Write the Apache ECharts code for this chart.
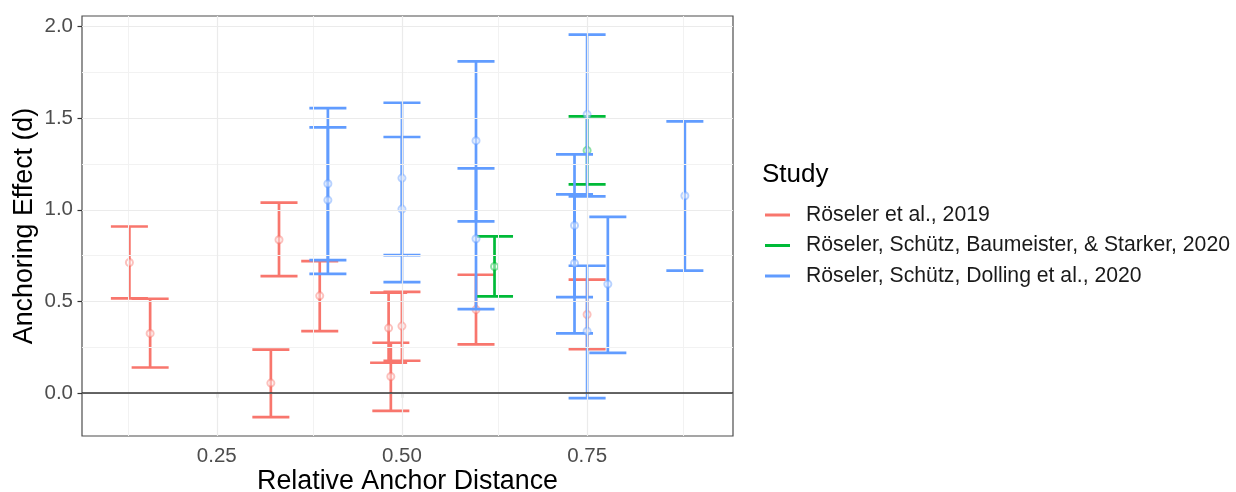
<!DOCTYPE html>
<html>
<head>
<meta charset="utf-8">
<title>Anchoring Effect by Relative Anchor Distance</title>
<script src="https://cdn.jsdelivr.net/npm/echarts@6/dist/echarts.min.js"></script>
<style>
  html, body { margin: 0; padding: 0; background: #ffffff; }
  #chart { width: 1236px; height: 492px; }
</style>
</head>
<body>
<div id="chart"></div>
<script>
// Study names (legend order)
const studies = [
  'Röseler et al., 2019',
  'Röseler, Schütz, Baumeister, & Starker, 2020',
  'Röseler, Schütz, Dolling et al., 2020'
];
const studyColors = ['#F8766D', '#00BA38', '#619CFF'];

// Röseler et al., 2019
const dist2019 = [0.132, 0.160, 0.334, 0.323, 0.389, 0.482, 0.500, 0.485, 0.600, 0.750];
const d2019    = [0.713, 0.326, 0.837, 0.055, 0.531, 0.355, 0.366, 0.091, 0.456, 0.429];
const lo2019   = [0.517, 0.140, 0.638, -0.131, 0.338, 0.166, 0.177, -0.096, 0.266, 0.240];
const hi2019   = [0.909, 0.515, 1.039, 0.238, 0.720, 0.548, 0.553, 0.275, 0.646, 0.619];

// Röseler, Schütz, Baumeister, & Starker, 2020
const distBaum = [0.625, 0.750];
const dBaum    = [0.691, 1.324];
const loBaum   = [0.528, 1.139];
const hiBaum   = [0.855, 1.510];

// Röseler, Schütz, Dolling et al., 2020
const distDoll = [0.400, 0.400, 0.500, 0.500, 0.600, 0.600, 0.750, 0.733, 0.733, 0.750, 0.778, 0.882];
const dDoll    = [1.142, 1.053, 1.173, 1.004, 1.377, 0.842, 1.520, 0.915, 0.709, 0.338, 0.595, 1.077];
const loDoll   = [0.726, 0.651, 0.753, 0.606, 0.937, 0.458, 1.073, 0.524, 0.326, -0.027, 0.220, 0.668];
const hiDoll   = [1.555, 1.450, 1.584, 1.397, 1.810, 1.226, 1.955, 1.302, 1.084, 0.695, 0.962, 1.482];

// Axis ticks and gridlines
const xTicks = [0.25, 0.5, 0.75];
const xMinorGrid = [0.125, 0.375, 0.625, 0.875];
const yTicks = [0, 0.5, 1, 1.5, 2];
const yMinorGrid = [0.25, 0.75, 1.25, 1.75];

const CAP_WIDTH = 0.05; // error bar cap width, in x data units

const groups = [
  { x: dist2019, d: d2019, lo: lo2019, hi: hi2019 },
  { x: distBaum, d: dBaum, lo: loBaum, hi: hiBaum },
  { x: distDoll, d: dDoll, lo: loDoll, hi: hiDoll }
];

function renderErrorBar(params, api) {
  const x = api.value(0), lo = api.value(1), hi = api.value(2);
  const top = api.coord([x, hi]);
  const bot = api.coord([x, lo]);
  const left = api.coord([x - CAP_WIDTH / 2, hi])[0];
  const right = api.coord([x + CAP_WIDTH / 2, hi])[0];
  const style = { stroke: api.visual('color'), lineWidth: 2.7, fill: null };
  return {
    type: 'group',
    children: [
      { type: 'line', shape: { x1: top[0], y1: top[1], x2: bot[0], y2: bot[1] }, style },
      { type: 'line', shape: { x1: left, y1: top[1], x2: right, y2: top[1] }, style },
      { type: 'line', shape: { x1: left, y1: bot[1], x2: right, y2: bot[1] }, style }
    ]
  };
}

const gridMajor = { color: '#EBEBEB', width: 1.2, type: 'solid' };
const gridMinor = { color: '#F2F2F2', width: 1, type: 'solid' };

const series = [];

// Background gridlines
series.push({
  type: 'scatter',
  data: [],
  silent: true,
  z: 0,
  markLine: {
    silent: true,
    symbol: ['none', 'none'],
    label: { show: false },
    animation: false,
    data: [
      ...xMinorGrid.map(v => ({ xAxis: v, lineStyle: gridMinor })),
      ...yMinorGrid.map(v => ({ yAxis: v, lineStyle: gridMinor })),
      ...xTicks.map(v => ({ xAxis: v, lineStyle: gridMajor })),
      ...yTicks.map(v => ({ yAxis: v, lineStyle: gridMajor }))
    ]
  }
});

groups.forEach((g, i) => {
  series.push({
    name: studies[i],
    type: 'custom',
    renderItem: renderErrorBar,
    itemStyle: { color: studyColors[i] },
    encode: { x: 0, y: [1, 2] },
    data: g.x.map((x, k) => [x, g.lo[k], g.hi[k]]),
    z: 2 + i
  });
  series.push({
    name: studies[i],
    type: 'scatter',
    symbol: 'emptyCircle',
    symbolSize: 7,
    itemStyle: { color: studyColors[i], borderWidth: 1.2, opacity: 0.45 },
    data: g.x.map((x, k) => [x, g.d[k]]),
    z: 2 + i
  });
});

// Reference line at zero effect
series.push({
  type: 'scatter',
  data: [],
  silent: true,
  z: 10,
  markLine: {
    silent: true,
    symbol: ['none', 'none'],
    label: { show: false },
    animation: false,
    data: [{ yAxis: 0, lineStyle: { color: '#333333', width: 1.6, type: 'solid' } }]
  }
});

const chart = echarts.init(document.getElementById('chart'), null, { renderer: 'canvas' });
chart.setOption({
  animation: false,
  backgroundColor: '#ffffff',
  textStyle: { fontFamily: '"Liberation Sans", Arial, sans-serif' },
  title: {
    text: 'Study',
    left: 762,
    top: 162,
    padding: 0,
    textStyle: { fontSize: 26, fontWeight: 'normal', color: '#000000', fontFamily: '"Liberation Sans", Arial, sans-serif' }
  },
  legend: {
    data: studies,
    orient: 'vertical',
    left: 765,
    top: 203,
    padding: 0,
    itemGap: 6.5,
    itemWidth: 25,
    itemHeight: 3,
    icon: 'rect',
    selectedMode: false,
    textStyle: { fontSize: 21.2, color: '#1A1A1A', lineHeight: 24, padding: [0, 0, 0, 11],
      fontFamily: '"Liberation Sans", Arial, sans-serif' }
  },
  grid: {
    left: 82, right: 503, top: 16, bottom: 56,
    outerBoundsMode: 'none',
    containLabel: false,
    show: true, borderColor: '#4D4D4D', borderWidth: 1.2, backgroundColor: 'transparent'
  },
  xAxis: {
    type: 'value',
    min: 0.068,
    max: 0.947,
    name: 'Relative Anchor Distance',
    nameLocation: 'middle',
    nameMoveOverlap: false,
    nameGap: 32,
    nameTextStyle: { fontSize: 26.8, color: '#000000' },
    axisLine: { show: false },
    splitLine: { show: false },
    axisTick: { show: true, customValues: xTicks, length: 4.5, lineStyle: { color: '#333333', width: 1.2 } },
    axisLabel: {
      customValues: xTicks, margin: 10, fontSize: 20.5, color: '#4D4D4D',
      formatter: v => v.toFixed(2)
    }
  },
  yAxis: {
    type: 'value',
    min: -0.2335,
    max: 2.057,
    name: 'Anchoring Effect (d)',
    nameLocation: 'middle',
    nameMoveOverlap: false,
    nameRotate: 90,
    nameGap: 44,
    nameTextStyle: { fontSize: 26.8, color: '#000000' },
    axisLine: { show: false },
    splitLine: { show: false },
    axisTick: { show: true, customValues: yTicks, length: 4.5, lineStyle: { color: '#333333', width: 1.2 } },
    axisLabel: {
      customValues: yTicks, margin: 9, fontSize: 20.5, color: '#4D4D4D',
      formatter: v => v.toFixed(1)
    }
  },
  series
});
</script>
</body>
</html>
